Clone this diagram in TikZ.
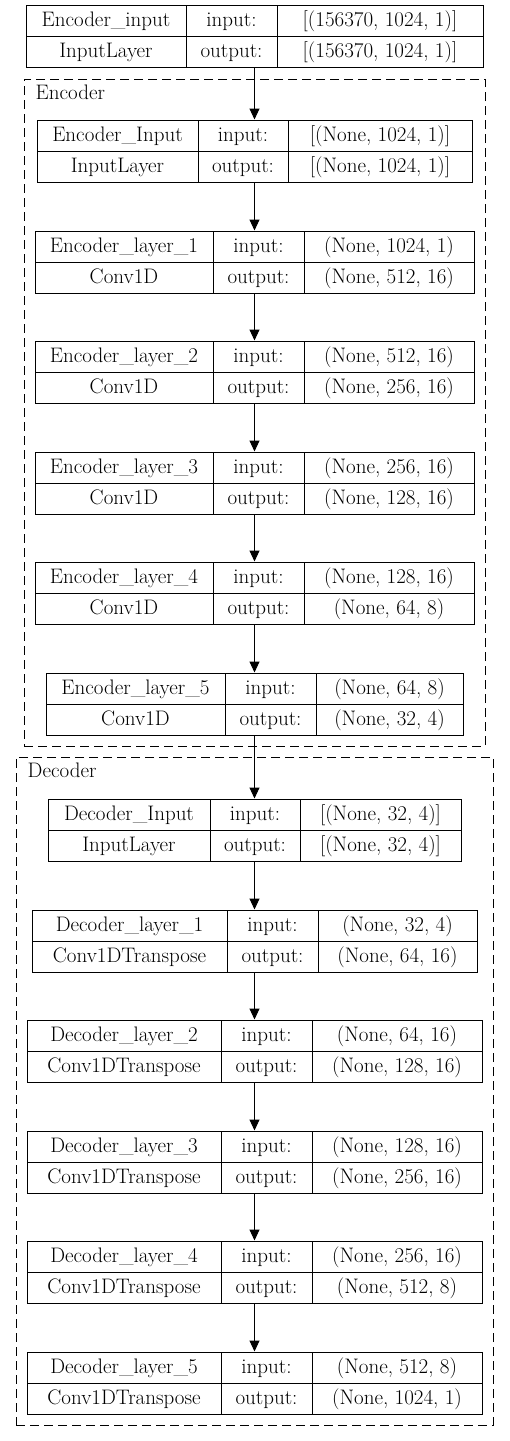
\documentclass[tikz,border=0pt]{standalone}
\usetikzlibrary{arrows.meta}
\tikzset{
  kbox/.style={draw=black, line width=1pt, rectangle, inner sep=0pt, outer sep=0.5pt},
  kline/.style={draw=black, line width=1pt},
  ktext/.style={inner sep=0pt, anchor=base, font=\fontsize{21}{25}\selectfont},
  klabel/.style={inner sep=0pt, anchor=base west, font=\fontsize{21}{25}\selectfont},
  kclus/.style={draw=black, line width=1pt, dash pattern=on 9pt off 5pt, rectangle, inner sep=0pt},
  karrow/.style={draw=black, line width=1pt, -{Triangle[length=11pt,width=10pt]}},
}
% #1 name, #2 top, #3 left, #4 div1, #5 div2, #6 right, #7 layer, #8 type, #9 {in}{out}
\newcommand\kshpA[2]{#1}
\newcommand\kshpB[2]{#2}
\newcommand\kbox[9]{%
  \node[kbox, minimum width={(#6-#3)*1pt}, minimum height=62pt] (#1) at ({(#3+#6)/2},{#2+31}) {};
  \draw[kline] (#3,{#2+31}) -- (#6,{#2+31});
  \draw[kline] (#4,#2) -- (#4,{#2+62});
  \draw[kline] (#5,#2) -- (#5,{#2+62});
  \node[ktext] (#1-n) at ({(#3+#4)/2},{#2+21}) {#7};
  \node[ktext] (#1-t) at ({(#3+#4)/2},{#2+52}) {#8};
  \node[ktext] (#1-i) at ({(#4+#5)/2},{#2+21}) {input:};
  \node[ktext] (#1-o) at ({(#4+#5)/2},{#2+52}) {output:};
  \node[ktext] (#1-x) at ({(#5+#6)/2},{#2+21}) {\kshpA#9};
  \node[ktext] (#1-y) at ({(#5+#6)/2},{#2+52}) {\kshpB#9};
}
\begin{document}
\begin{tikzpicture}[x=1pt, y=-1pt]
\fill[white] (0,0) rectangle (509,1441);
\useasboundingbox (0,0) rectangle (509,1441);

% clusters
\node[kclus, minimum width=461pt, minimum height=667pt] (enc) at (254.5,412.5) {};
\node[klabel] (enc-l) at (35.5,99) {Encoder};
\node[kclus, minimum width=477pt, minimum height=668pt] (dec) at (254.5,1091) {};
\node[klabel] (dec-l) at (27.5,777) {Decoder};

% layers
\kbox{top}{5}{26}{186}{277}{483}{Encoder\_input}{InputLayer}{{[(156370, 1024, 1)]}{[(156370, 1024, 1)]}}
\kbox{ein}{120}{37}{198}{288}{472}{Encoder\_Input}{InputLayer}{{[(None, 1024, 1)]}{[(None, 1024, 1)]}}
\kbox{e1}{231}{35}{213}{304}{474}{Encoder\_layer\_1}{Conv1D}{{(None, 1024, 1)}{(None, 512, 16)}}
\kbox{e2}{341}{35}{213}{304}{474}{Encoder\_layer\_2}{Conv1D}{{(None, 512, 16)}{(None, 256, 16)}}
\kbox{e3}{452}{35}{213}{304}{474}{Encoder\_layer\_3}{Conv1D}{{(None, 256, 16)}{(None, 128, 16)}}
\kbox{e4}{562}{35}{213}{304}{474}{Encoder\_layer\_4}{Conv1D}{{(None, 128, 16)}{(None, 64, 8)}}
\kbox{e5}{673}{46}{225}{316}{463}{Encoder\_layer\_5}{Conv1D}{{(None, 64, 8)}{(None, 32, 4)}}
\kbox{din}{799}{48}{210}{300}{461}{Decoder\_Input}{InputLayer}{{[(None, 32, 4)]}{[(None, 32, 4)]}}
\kbox{d1}{910}{32}{227}{318}{477}{Decoder\_layer\_1}{Conv1DTranspose}{{(None, 32, 4)}{(None, 64, 16)}}
\kbox{d2}{1020}{27}{221}{312}{482}{Decoder\_layer\_2}{Conv1DTranspose}{{(None, 64, 16)}{(None, 128, 16)}}
\kbox{d3}{1131}{27}{221}{312}{482}{Decoder\_layer\_3}{Conv1DTranspose}{{(None, 128, 16)}{(None, 256, 16)}}
\kbox{d4}{1241}{27}{221}{312}{482}{Decoder\_layer\_4}{Conv1DTranspose}{{(None, 256, 16)}{(None, 512, 8)}}
\kbox{d5}{1352}{27}{221}{312}{482}{Decoder\_layer\_5}{Conv1DTranspose}{{(None, 512, 8)}{(None, 1024, 1)}}

% connectors
\draw[karrow] (top.south) -- (ein.north);
\draw[karrow] (ein.south) -- (e1.north);
\draw[karrow] (e1.south) -- (e2.north);
\draw[karrow] (e2.south) -- (e3.north);
\draw[karrow] (e3.south) -- (e4.north);
\draw[karrow] (e4.south) -- (e5.north);
\draw[karrow] (e5.south) -- (din.north);
\draw[karrow] (din.south) -- (d1.north);
\draw[karrow] (d1.south) -- (d2.north);
\draw[karrow] (d2.south) -- (d3.north);
\draw[karrow] (d3.south) -- (d4.north);
\draw[karrow] (d4.south) -- (d5.north);
\end{tikzpicture}
\end{document}
